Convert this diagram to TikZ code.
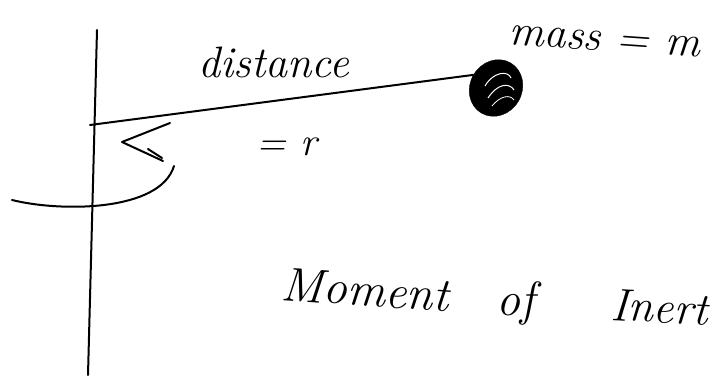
\documentclass[tikz,border=0pt]{standalone}
\usetikzlibrary{shapes.geometric}
\tikzset{
  ink/.style={line width=2pt, line cap=round, line join=round},
  hand/.style={font=\itshape, inner sep=0pt, anchor=base west},
}
\begin{document}
\begin{tikzpicture}[x=1pt,y=-1pt]
\useasboundingbox[fill=white] (0,0) rectangle (716,377);
% vertical axis
\coordinate (axtop) at (97,30);
\coordinate (axbot) at (88,375);
\draw[ink] (axtop) -- (axbot);
% rod
\coordinate (rodstart) at (90,125);
\node[ellipse, minimum width=52pt, minimum height=58pt, fill=black, inner sep=0pt, draw=black, rotate=-30] (mass) at (496,88) {};
\draw[ink] (rodstart) -- (mass.west);
% scribble look inside the mass
\draw[white, line width=1pt] (485,86) .. controls (493,72) and (508,70) .. (511,78);
\draw[white, line width=1pt] (488,98) .. controls (497,84) and (509,82) .. (514,90);
\draw[white, line width=0.8pt] (492,106) .. controls (500,96) and (510,94) .. (514,100);
% rotation arrow
\coordinate (c0) at (12,200);
\coordinate (c1) at (174,166);
\coordinate (tip) at (122,142);
\coordinate (w1) at (170,123);
\coordinate (w2) at (163,161);
\draw[ink] (c0) .. controls (60,212) and (160,212) .. (c1);
\draw[ink] (w1) -- (tip) -- (w2);
\draw[ink] (148,149) -- (162,158);
% labels
\node[hand, font=\itshape\fontsize{44}{48}\selectfont] (dist) at (198,78) {distance};
\node[hand, font=\itshape\fontsize{40}{44}\selectfont] (eqr) at (256,156) {= r};
\node[hand, font=\itshape\fontsize{44}{48}\selectfont, rotate=-4] (massl) at (508,44) {mass = m};
\node[hand, font=\itshape\fontsize{48}{52}\selectfont, rotate=-4] (mom) at (280,300) {Moment};
\node[hand, font=\itshape\fontsize{48}{52}\selectfont] (of) at (496,316) {of};
\node[hand, font=\itshape\fontsize{46}{50}\selectfont, rotate=-3] (inert) at (610,320) {Inert};
\end{tikzpicture}
\end{document}
